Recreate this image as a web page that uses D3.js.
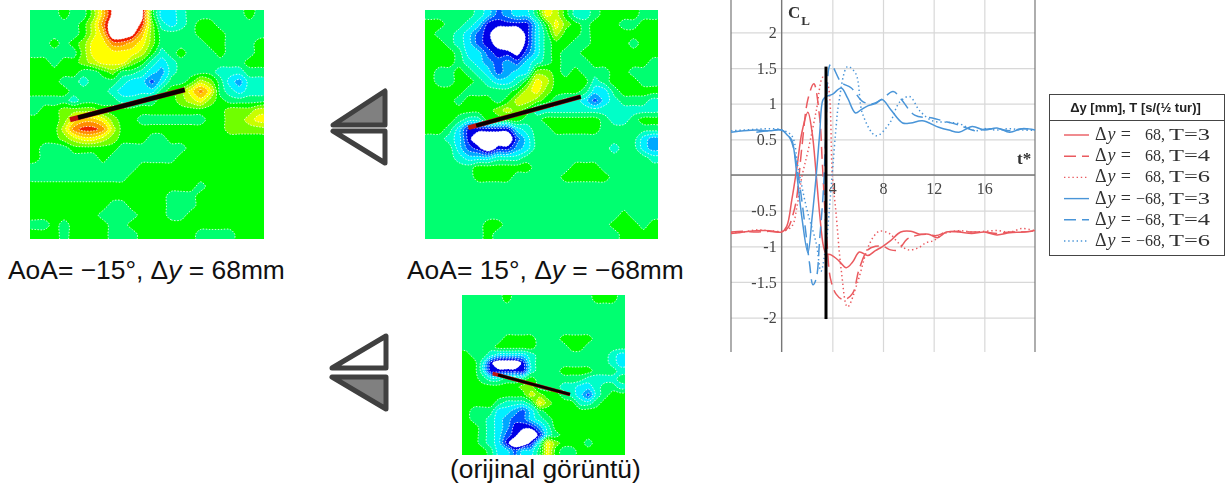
<!DOCTYPE html>
<html>
<head>
<meta charset="utf-8">
<title>CL and pressure fields</title>
<style>
    html, body { margin: 0; padding: 0; background: white; }
    svg { display: block; }
</style>
<script src="https://d3js.org/d3.v7.min.js"></script>
</head>
<body>
<script>
// pressure fields, read by eye on a coarse grid (level -6..6, beyond that is white)
let fieldLeft = [
    [-1,-1,-1,0,-1,-1,1,4,7,8,8,7,0,-3,-3,-2,-1,-1,-1,-1,-1,-1,0,-1],
    [-1,-1,-1,-1,-1,0,2,5,8,8,8,6,1,-2,-3,-2,-1,0,0,-1,-1,-1,-1,-1],
    [-1,-1,-1,-1,-1,0,2,4,8,8,7,4,1,-1,-1,-1,-1,0,0,0,-1,-1,-1,-1],
    [-1,-1,0,-1,0,1,3,3,5,5,4,3,1,-1,-1,-1,-1,-1,0,0,-1,-1,-1,0],
    [-1,-1,-1,-1,-1,1,3,3,3,3,3,2,0,-2,-1,0,-1,-1,-1,0,-1,-1,-1,0],
    [0,0,-1,0,0,1,2,3,3,3,1,0,-2,-3,-2,-1,-1,-1,-1,-1,-1,-1,0,0],
    [0,0,0,0,0,-1,-1,0,1,-1,-1,-2,-3,-4,-2,-1,-1,-1,-1,-2,-2,-2,-1,-1],
    [0,0,0,-1,-1,-2,-1,-1,-1,-2,-3,-3,-5,-3,-1,-1,0,2,1,-1,-3,-4,-2,-2],
    [0,0,0,0,-1,-1,-1,-1,-2,-3,-3,-3,-3,-1,0,1,3,5,3,-1,-2,-3,-2,-2],
    [-1,-1,-1,-1,-2,-1,-1,-1,-1,-2,-2,-1,-1,0,0,1,2,3,1,0,-1,-1,-1,-1],
    [-1,0,0,1,1,1,1,0,0,0,0,0,0,0,0,0,0,0,0,0,1,1,1,2],
    [0,0,0,1,3,4,4,3,1,0,0,-1,-1,-1,-1,-1,-1,-1,0,0,1,1,2,3],
    [0,0,0,2,5,6,6,5,2,0,0,0,0,0,0,0,0,0,0,0,1,1,1,1],
    [0,0,0,1,2,3,3,2,1,0,0,0,-1,-1,0,0,0,0,0,0,0,0,0,0],
    [0,-1,-1,-1,0,0,0,0,0,-1,-1,-1,-1,-1,-1,-1,0,0,0,0,0,0,0,0],
    [0,-1,-1,-1,-1,-1,-1,0,-1,-1,-1,-1,-1,-1,-1,0,0,0,0,0,0,0,0,0],
    [-1,-1,-1,-1,-1,-1,-1,-1,-1,-1,-1,0,0,0,0,0,0,0,0,0,0,0,0,0],
    [-1,-1,-1,-1,-1,-1,-1,-1,-1,-1,0,0,0,0,0,0,0,0,0,0,0,0,0,0],
    [0,0,0,0,0,0,0,0,0,0,0,0,0,0,0,0,0,-1,0,0,0,0,0,0],
    [0,0,0,0,0,0,0,0,0,0,0,0,0,0,-1,-1,-1,0,0,0,0,0,0,0],
    [0,0,0,0,0,0,0,0,-1,-1,0,0,0,0,-1,-1,-1,0,0,0,0,0,0,0],
    [0,0,0,0,0,0,0,-1,-1,-1,-1,0,0,0,-1,-1,0,0,0,0,0,0,0,0],
    [-1,-1,0,-1,0,0,0,0,-1,-1,0,0,0,0,0,0,0,0,0,0,0,0,0,0],
    [0,0,0,-1,0,0,0,0,-1,-1,-1,0,0,0,0,0,0,-1,-1,-1,-1,0,0,0]
]

let fieldMiddle = [
    [-1,-1,-1,-1,-1,-2,-3,-5,-4,-3,-3,-1,3,2,0,-2,-2,-1,0,0,0,0,-1,-1],
    [0,0,-1,-1,-2,-3,-6,-6,-6,-6,-6,-3,0,3,1,0,-1,0,0,0,-1,-1,0,0],
    [0,-1,-1,-2,-3,-5,-6,-8,-8,-8,-6,-3,-1,2,0,0,-1,0,0,0,0,0,0,0],
    [0,0,-1,-2,-3,-5,-6,-7,-8,-8,-6,-3,-1,0,0,-1,-1,0,0,0,0,-1,0,0],
    [0,0,0,-1,-3,-3,-5,-6,-6,-7,-5,-3,-1,0,-1,-1,0,0,0,0,0,0,0,0],
    [0,0,0,-1,-2,-3,-4,-5,-4,-5,-3,-2,-1,0,-1,-1,-1,0,0,0,0,0,0,-1],
    [0,-1,-1,0,-1,-2,-3,-5,-4,-3,-3,1,1,0,-1,0,-1,-1,-1,0,0,-1,-1,-1],
    [0,-1,-1,0,0,-1,-2,-3,-3,-2,0,3,2,0,0,0,0,-2,-1,0,0,0,-1,-1],
    [0,0,0,0,-1,-1,-1,-1,-1,0,2,3,1,0,0,0,-1,-3,-3,-1,0,0,0,0],
    [0,0,0,-1,0,0,0,-1,0,2,2,1,0,-1,-2,-2,-3,-5,-3,-2,-1,-1,-1,-2],
    [0,0,0,0,0,0,0,1,2,1,0,-2,-2,-2,-2,-2,-2,-2,-2,-2,-2,-2,-2,-2],
    [0,0,0,-1,-2,-2,0,0,0,0,-1,-1,0,0,0,0,0,0,-1,-2,-2,-1,0,0],
    [0,0,-1,-3,-6,-6,-6,-6,-6,-3,-2,-1,-1,0,0,0,0,0,-1,-1,-1,-1,-1,-1],
    [-1,-1,-2,-3,-6,-8,-8,-8,-8,-5,-3,-1,-1,-1,-1,-1,-1,-1,-1,-1,-1,-1,-3,-4],
    [-1,-1,-1,-3,-5,-6,-8,-6,-6,-4,-3,-1,-1,-1,-1,-1,-1,-1,-1,-2,-1,-1,-3,-4],
    [-1,-1,-1,-2,-3,-3,-3,-2,-2,-2,-1,-1,-1,-1,-1,-1,-1,-1,-1,-1,-1,-1,-1,-2],
    [-1,-1,-1,-1,-1,0,0,0,0,0,0,-1,-1,-1,-1,0,0,0,-1,-1,-1,-1,-1,-1],
    [-1,-1,-1,-1,-1,0,0,0,0,-1,-1,-1,-1,-1,0,0,0,0,0,-1,-1,-1,-1,-1],
    [-1,-1,-1,-1,-1,-1,-1,-1,-1,-1,-1,-1,-1,-1,-1,-1,-1,-1,-1,-1,-1,-1,-1,-1],
    [-1,-1,-1,-1,-1,-1,-1,-1,-1,-1,-1,-1,-1,-1,-1,-1,-1,-1,-1,-1,-1,-1,-1,-1],
    [-1,-1,-1,-1,-1,-1,-1,-1,-1,-1,-1,-1,-1,-1,-1,-1,-1,-1,-1,-1,-1,-1,-1,-1],
    [-1,-1,-1,-1,-1,-1,-1,-1,-1,-1,-1,-1,-1,-1,-1,-1,-1,-1,-1,-1,0,-1,-1,-1],
    [-1,-1,-1,-1,-1,-1,0,0,-1,-1,-1,-1,-1,-1,-1,-1,-1,-1,-1,0,0,0,-1,0],
    [-1,-1,-1,-1,-1,-1,0,-1,-1,-1,-1,-1,-1,-1,-1,-1,-1,-1,-1,-1,0,0,0,0]
]

let fieldOriginal = [
    [-1,-1,-1,-1,-1,0,-1,-1,-1,-1,-1,-1,-1,-1,-1,-1,0,0,0,-1],
    [-1,-1,-1,-1,-1,-1,-1,-1,-1,-1,-1,-1,-1,-1,-1,-1,-1,-1,-1,-1],
    [-1,-1,-1,-1,-1,-1,-1,-1,-1,-1,-1,-1,-1,-1,-1,-1,-1,-1,-1,-1],
    [-1,-1,-1,-1,-1,-1,-1,-1,-1,-1,-1,-1,-1,-1,-1,-1,-1,-1,-1,-1],
    [-1,-1,-1,-1,-1,-1,-1,-1,-1,-1,-1,-1,-1,-1,-1,-1,-1,-1,-1,-1],
    [-1,-1,-1,-1,-1,0,0,0,0,-1,-1,-1,0,0,0,0,-1,-1,-1,-1],
    [-1,-1,-1,-1,0,0,0,0,0,-1,-1,-1,-1,0,0,-1,-1,-1,-1,-1],
    [0,-1,-1,-2,-3,-3,-3,-3,-2,-1,-1,-1,-1,-1,-1,-1,-1,-1,-2,-3],
    [0,0,-2,-6,-8,-8,-8,-6,-2,-1,-1,-1,-1,-1,-1,-1,-1,-1,-2,-3],
    [0,0,-2,-6,-6,-6,-6,-6,-2,-1,-1,-1,0,0,0,0,-1,-1,-1,-2],
    [0,0,-1,-2,-2,-1,-1,-1,0,-1,-1,-1,-1,-1,-1,-2,-2,-2,-2,-1],
    [0,0,0,0,0,0,0,1,1,-1,-1,-1,-2,-2,-3,-3,-2,-1,-1,-2],
    [0,0,0,0,0,0,0,0,2,1,0,0,-1,-2,-3,-5,-2,-1,0,0],
    [0,0,0,0,-1,-2,-2,-2,-1,3,1,0,0,0,-2,-2,-1,0,0,0],
    [0,-1,-1,-1,-3,-3,-4,-5,-3,-1,0,0,0,0,0,0,0,0,0,0],
    [0,-1,-1,-2,-3,-4,-5,-5,-3,-2,-1,0,0,0,0,0,0,0,0,0],
    [0,0,-1,-2,-3,-4,-6,-6,-6,-4,-2,0,0,0,0,0,0,0,0,0],
    [0,0,-1,-2,-3,-5,-6,-8,-8,-6,-2,-1,0,0,0,0,0,0,0,0],
    [0,0,-1,-2,-3,-6,-8,-8,-6,-2,3,1,0,0,0,-1,0,0,0,0],
    [0,0,0,-1,-3,-3,-5,-3,-3,-1,3,0,-1,-1,0,0,0,0,0,0]
]

let levelStops = [-6.5,-5.5,-4.5,-3.5,-2.5,-1.5,-0.5,0.5,1.5,2.5,3.5,4.5,5.5,6.5]
let levelColors = ["#0000e6","#0050ff","#00a8ff","#00f0ff","#00ffc8","#00ff70","#00ff00","#70ff00","#c8ff00","#ffff00","#ffc800","#ff8c00","#f02000","#ffffff"]

// wing ends in grid units: [col0,row0,col1,row1]
let wingLeft = [4.1,11.5,15.87,8.36]
let wingMiddle = [4.46,12.34,16.04,9.09]
let wingOriginal = [3.76,9.81,13.25,12.43]

// CL against t*
let tRed3 = [-4,-3,-2,-1,0,0.4,0.8,1.2,1.6,2.07,2.4,2.73,3.0,3.3,3.5,3.9,4.5,5.1,5.6,6.14,6.8,7.4,7.9,8.6,9.4,10.2,10.9,11.6,12.3,13.0,14,15,16,17,18,19,20]
let clRed3 = [-0.82,-0.8,-0.78,-0.78,-0.8,-0.72,-0.35,0.1,0.6,0.88,0.6,0,-0.55,-1.0,-1.1,-1.12,-1.2,-1.3,-1.22,-1.08,-1.13,-1.06,-1.01,-0.92,-0.8,-0.79,-0.83,-0.83,-0.88,-0.8,-0.8,-0.82,-0.8,-0.84,-0.81,-0.8,-0.78]
let tRed4 = [-4,-3,-2,-1,0,0.5,0.9,1.16,1.6,2.07,2.54,3.0,3.2,3.4,3.6,3.85,4.3,4.9,5.6,6.1,6.8,7.4,8.0,8.6,9.2,9.9,10.6,11.4,12.2,13,14,15,16,17,18,19,20]
let clRed4 = [-0.8,-0.79,-0.8,-0.79,-0.8,-0.74,-0.55,-0.35,0.4,1.06,1.28,0.8,0.2,-0.45,-1.0,-1.45,-1.67,-1.75,-1.66,-1.33,-1.05,-1,-1,-1.05,-1.05,-0.9,-0.85,-0.83,-0.85,-0.8,-0.79,-0.8,-0.8,-0.82,-0.8,-0.8,-0.78]
let tRed6 = [-4,-3,-2,-1,0,0.8,1.2,1.6,2.07,2.73,3.25,3.6,4.0,4.3,4.7,5.2,6.0,6.7,7.2,7.7,8.5,9.2,10,10.8,11.4,12,12.7,14,15,16,17,18,19,20]
let clRed6 = [-0.81,-0.8,-0.77,-0.78,-0.79,-0.72,-0.45,-0.02,0.33,0.9,1.37,1.3,0,-0.55,-1.33,-1.85,-1.5,-1.07,-0.88,-0.79,-0.82,-0.95,-1.05,-1.02,-0.95,-0.92,-0.83,-0.78,-0.8,-0.79,-0.78,-0.8,-0.75,-0.78]
let tBlue3 = [-4,-3,-2,-1,0,0.5,0.8,1.2,1.6,2.07,2.4,2.73,3.0,3.25,3.5,4.0,4.7,5.2,5.83,6.3,6.8,7.4,7.93,8.6,9.55,10.2,11.1,12.4,13.2,14,15.05,16,17,18,19,20]
let clBlue3 = [0.6,0.62,0.63,0.62,0.63,0.55,0.49,0,-0.6,-1.09,-0.6,0,0.58,1.05,1.1,1.13,1.22,1.08,0.87,0.92,0.97,1.0,1.06,0.92,0.73,0.73,0.76,0.67,0.63,0.6,0.68,0.63,0.66,0.6,0.65,0.63]
let tBlue4 = [-2,-1,0,0.7,1.3,1.8,2.2,2.47,2.73,3.0,3.3,3.5,3.87,4.7,5.5,6.4,7.2,7.9,8.8,9.4,10.5,11.9,12.7,14,15.3,16,17,18,19,20]
let clBlue4 = [0.6,0.62,0.63,0.5,0,-0.65,-1.24,-1.54,-1.45,-0.9,-0.2,0.6,1.55,1.3,1.22,1.03,1.0,1.06,1.17,1.07,0.84,0.8,0.76,0.7,0.62,0.64,0.65,0.62,0.65,0.63]
let tBlue6 = [-4,-3,-2,-1,0,0.8,1.3,2.0,2.73,3.1,3.55,3.8,4.03,4.3,4.5,5.2,5.85,6.4,7.45,8.5,9.3,10.1,10.9,11.9,13,14,15.3,16,17,18,19,20]
let clBlue6 = [0.62,0.63,0.64,0.65,0.63,0.55,0.1,-0.49,-0.96,-1.35,-0.9,-0.4,0.1,0.68,1.0,1.52,1.42,0.85,0.55,0.72,1.02,1.1,0.9,0.76,0.74,0.72,0.62,0.65,0.63,0.65,0.63,0.63]

let xTicks = [4,8,12,16]
let yTicks = [2,1.5,1,0.5,-0.5,-1,-1.5,-2]
let yGrid = [2,1.5,1,0.5,0,-0.5,-1,-1.5,-2]

let legendNames = ["68","68","68","\u221268","\u221268","\u221268"]
let legendTimes = ["3","4","6","3","4","6"]

const red = "#ea5a5f"
const blue = "#4a95d8"
let series = [
    {t: tRed3, cl: clRed3, color: red, dash: null},
    {t: tRed4, cl: clRed4, color: red, dash: "12 6"},
    {t: tRed6, cl: clRed6, color: red, dash: "1.4 2.8"},
    {t: tBlue3, cl: clBlue3, color: blue, dash: null},
    {t: tBlue4, cl: clBlue4, color: blue, dash: "12 6"},
    {t: tBlue6, cl: clBlue6, color: blue, dash: "1.4 2.8"}
]

let svg = d3.select("body").append("svg").attr("width", 1229).attr("height", 490)
let defs = svg.append("defs")
defs.append("filter").attr("id", "soft")
    .attr("x", "-2%").attr("y", "-2%").attr("width", "104%").attr("height", "104%")
    .append("feGaussianBlur").attr("stdDeviation", 0.35)

let drawField = (id, values, wing, box, wingWidth) => {
    let rows = values.length
    let cols = values[0].length
    // one repeated row/column round the grid so the contours run past the panel edge
    let padded = []
    for (let j = -1; j <= rows; j++) {
        let row = values[Math.max(0, Math.min(rows - 1, j))]
        padded.push(row[0], ...row, row[cols - 1])
    }
    let sx = d3.scaleLinear().domain([1, cols + 1]).range([box[0], box[2]])
    let sy = d3.scaleLinear().domain([1, rows + 1]).range([box[1], box[3]])
    let ring = d3.line().x(p => sx(p[0])).y(p => sy(p[1])).curve(d3.curveCatmullRomClosed.alpha(0.5))
    let path = (d) => d.coordinates.flat().map(r => ring(r.slice(0, -1))).join("")
    let contours = d3.contours().size([cols + 2, rows + 2]).thresholds(levelStops)(padded)

    defs.append("clipPath").attr("id", id)
        .append("rect")
        .attr("x", box[0]).attr("y", box[1])
        .attr("width", box[2] - box[0]).attr("height", box[3] - box[1])

    let g = svg.append("g")
    let inner = g.append("g").attr("clip-path", `url(#${id})`)
    inner.selectAll("path.fill").data(contours).enter().append("path")
        .attr("class", "fill")
        .attr("d", path)
        .attr("fill", (d, i) => levelColors[i])
        .attr("fill-rule", "evenodd")
    inner.selectAll("path.edge").data(contours).enter().append("path")
        .attr("class", "edge")
        .attr("d", path)
        .attr("fill", "none")
        .attr("stroke", "white")
        .attr("stroke-width", 0.8)
        .attr("stroke-dasharray", "1.5 1.5")

    g.append("line")
        .attr("x1", sx(wing[0] + 1)).attr("y1", sy(wing[1] + 1))
        .attr("x2", sx(wing[2] + 1)).attr("y2", sy(wing[3] + 1))
        .attr("stroke", "#c01010").attr("stroke-width", wingWidth + 0.8)
    g.append("line")
        .attr("x1", sx(wing[0] + 1 + (wing[2] - wing[0]) * 0.07)).attr("y1", sy(wing[1] + 1 + (wing[3] - wing[1]) * 0.07))
        .attr("x2", sx(wing[2] + 1)).attr("y2", sy(wing[3] + 1))
        .attr("stroke", "#0a0000").attr("stroke-width", wingWidth)
}

drawField("clipLeft", fieldLeft, wingLeft, [30, 10, 264, 239], 4.4)
drawField("clipMiddle", fieldMiddle, wingMiddle, [425, 10, 658, 239], 3.8)
drawField("clipOriginal", fieldOriginal, wingOriginal, [462, 295, 625, 455], 2.8)

// grey wedge pairs
let wedges = [
    {pts: [[333,125],[385,91],[385,125]], fill: "#808080"},
    {pts: [[333,131],[385,131],[385,163]], fill: "white"},
    {pts: [[332,368],[386,336],[386,368]], fill: "white"},
    {pts: [[332,377],[386,377],[386,409]], fill: "#808080"}
]
svg.selectAll("polygon.wedge").data(wedges).enter().append("polygon")
    .attr("class", "wedge")
    .attr("points", d => d.pts.join(" "))
    .attr("fill", d => d.fill)
    .attr("stroke", "#404040")
    .attr("stroke-width", 5)
    .attr("stroke-linejoin", "round")

// captions
let caption = (x, y, parts) => {
    let t = svg.append("text").attr("x", x).attr("y", y)
        .attr("font-family", "'Liberation Sans', Arial, sans-serif")
        .attr("font-size", 26.4).attr("fill", "#111")
    parts.forEach(p => t.append("tspan").attr("font-style", p[1] ? "italic" : "normal").text(p[0]))
}
caption(8, 279, [["AoA= \u221215\u00b0, \u0394", 0], ["y", 1], [" = 68mm", 0]])
caption(407, 279, [["AoA= 15\u00b0, \u0394", 0], ["y", 1], [" = \u221268mm", 0]])
caption(450, 478, [["(orijinal g\u00f6r\u00fcnt\u00fc)", 0]])

// CL plot
let x = d3.scaleLinear().domain([-4, 20]).range([731, 1035])
let y = d3.scaleLinear().domain([2.454, -2.482]).range([0, 352])

let chart = svg.append("g").attr("filter", "url(#soft)")

let gridX = chart.append("g").attr("transform", "translate(0,352)")
    .call(d3.axisBottom(x).tickValues(xTicks).tickSize(-352).tickFormat(""))
gridX.select(".domain").remove()
gridX.selectAll("line").attr("stroke", "#d8d8d8").attr("stroke-width", 1.2)

let gridY = chart.append("g").attr("transform", "translate(1035,0)")
    .call(d3.axisLeft(y).tickValues(yGrid).tickSize(304).tickFormat(""))
gridY.select(".domain").remove()
gridY.selectAll("line").attr("stroke", "#d8d8d8").attr("stroke-width", 1.2)

let frameLine = (x1, y1, x2, y2, w) => chart.append("line")
    .attr("x1", x1).attr("y1", y1).attr("x2", x2).attr("y2", y2)
    .attr("stroke", "#777").attr("stroke-width", w)
frameLine(x(-4), 0, x(-4), 352, 1.2)
frameLine(x(20), 0, x(20), 352, 1.2)
frameLine(x(0), 0, x(0), 352, 1.4)
frameLine(x(-4), y(0), x(20), y(0), 1.4)

let styleAxis = (g) => {
    g.select(".domain").remove()
    g.selectAll("line").remove()
    g.selectAll("text")
        .attr("font-family", "'Liberation Serif', 'Times New Roman', serif")
        .attr("font-size", 16)
        .attr("fill", "#444")
}
chart.append("g").attr("transform", `translate(${x(0) - 2},0)`)
    .call(d3.axisLeft(y).tickValues(yTicks).tickSize(0).tickFormat(d => d))
    .call(styleAxis)
chart.append("g").attr("transform", `translate(0,${y(0) + 5})`)
    .call(d3.axisBottom(x).tickValues(xTicks).tickSize(0))
    .call(styleAxis)

let lineGen = (d) => d3.line()
    .x(i => x(d.t[i]))
    .y(i => y(d.cl[i]))
    .curve(d3.curveCatmullRom.alpha(0.5))(d3.range(d.t.length))

chart.selectAll("path.cl").data(series).enter().append("path")
    .attr("class", "cl")
    .attr("d", lineGen)
    .attr("fill", "none")
    .attr("stroke", d => d.color)
    .attr("stroke-width", 1.5)
    .attr("stroke-dasharray", d => d.dash)

chart.append("line")
    .attr("x1", x(3.5)).attr("x2", x(3.5))
    .attr("y1", y(1.52)).attr("y2", y(-2.02))
    .attr("stroke", "black").attr("stroke-width", 3)

let clLabel = chart.append("text").attr("x", 788).attr("y", 17.5)
    .attr("font-family", "'Liberation Serif', serif").attr("font-weight", "bold")
    .attr("font-size", 17).attr("fill", "#333").text("C")
clLabel.append("tspan").attr("font-size", 13).attr("dy", 7).attr("dx", 1).text("L")
chart.append("text").attr("x", 1017).attr("y", 163.5)
    .attr("font-family", "'Liberation Serif', serif").attr("font-weight", "bold")
    .attr("font-size", 17).attr("fill", "#333").text("t*")

// legend table
let legend = svg.append("g").attr("filter", "url(#soft)")
legend.append("rect").attr("x", 1049.5).attr("y", 94.5).attr("width", 175).attr("height", 161)
    .attr("fill", "white").attr("stroke", "#444").attr("stroke-width", 1)
legend.append("line").attr("x1", 1049.5).attr("x2", 1224.5).attr("y1", 120.5).attr("y2", 120.5)
    .attr("stroke", "#444").attr("stroke-width", 1)
legend.append("text").attr("x", 1135.5).attr("y", 111.5).attr("text-anchor", "middle")
    .attr("font-family", "'Liberation Sans', Arial, sans-serif").attr("font-weight", "bold")
    .attr("font-size", 13).attr("fill", "#222").text("\u0394y [mm], T [s/(\u00bd tur)]")

let rowY = d3.scaleLinear().domain([0, 5]).range([135, 241])
let font = "'Liberation Serif', 'Times New Roman', serif"
let legendText = (xx, yy, anchor) => legend.append("text").attr("x", xx).attr("y", yy + 5)
    .attr("text-anchor", anchor)
    .attr("font-family", font).attr("font-size", 16).attr("fill", "#333")
series.forEach((s, i) => {
    let yy = rowY(i)
    legend.append("line").attr("x1", 1064).attr("x2", 1089).attr("y1", yy).attr("y2", yy)
        .attr("stroke", s.color).attr("stroke-width", 1.4)
        .attr("stroke-dasharray", s.dash)
    let lead = legendText(1095, yy, "start").attr("font-size", 18)
    lead.append("tspan").text("\u0394")
    lead.append("tspan").attr("font-style", "italic").attr("dx", 1).text("y")
    legendText(1131, yy, "end").attr("font-size", 18).text("=")
    legendText(1165, yy, "end").text(legendNames[i] + ",")
    legendText(1169, yy, "start").attr("textLength", 41).attr("lengthAdjust", "spacingAndGlyphs").text("T=" + legendTimes[i])
})
</script>
</body>
</html>
